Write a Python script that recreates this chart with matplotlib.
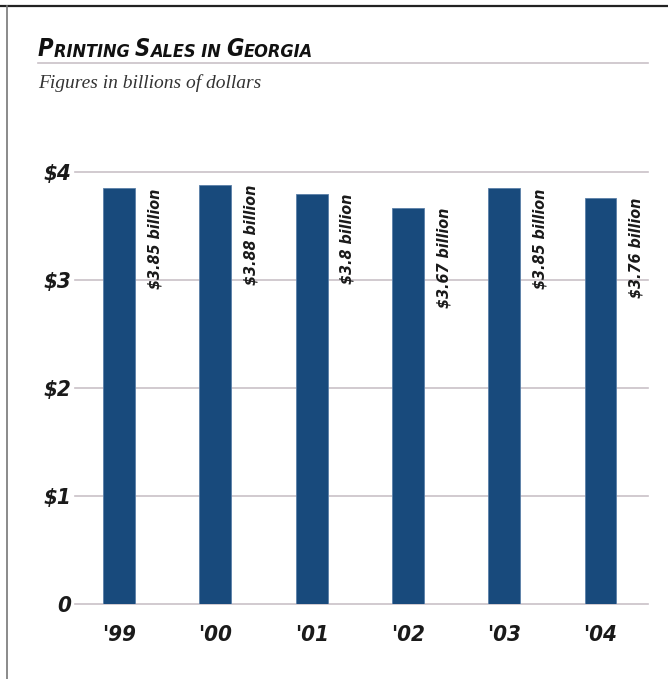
import matplotlib
matplotlib.use('Agg')
import matplotlib.pyplot as plt
from matplotlib.lines import Line2D

# datos del grafico
years = ["'99", "'00", "'01", "'02", "'03", "'04"]
sales = [3.85, 3.88, 3.80, 3.67, 3.85, 3.76]
labels = ['$3.85 billion', '$3.88 billion', '$3.8 billion',
          '$3.67 billion', '$3.85 billion', '$3.76 billion']
yticks = [0, 1, 2, 3, 4]
ytick_labels = ['0', '$1', '$2', '$3', '$4']

bar_color = '#184a7c'
grid_color = '#c9c1c7'
cond = ['Liberation Sans Narrow', 'DejaVu Sans']
cfont = dict(family=cond, fontstretch='condensed', fontweight='bold', fontstyle='italic')

W, H = 668, 679
fig = plt.figure(figsize=(W / 100, H / 100), dpi=100)

def fx(px):
    return px / W

def fy(py):
    return 1 - py / H

# marco
fig.add_artist(Line2D([0, 1], [fy(6), fy(6)], color='#222222', lw=1.6))
fig.add_artist(Line2D([fx(7), fx(7)], [fy(6), 0], color='#777777', lw=1.2))
fig.add_artist(Line2D([fx(38), fx(648)], [fy(63), fy(63)], color=grid_color, lw=1.2))

ax = fig.add_axes([fx(75), fy(604), fx(648) - fx(75), (604 - 172) / H])

# titulo en versalitas
parts = [('P', 17), ('RINTING ', 13), ('S', 17), ('ALES IN ', 13), ('G', 17), ('EORGIA', 13)]
prev = None
for txt, size in parts:
    if prev is None:
        prev = fig.text(fx(38), fy(56), txt, fontsize=size, va='baseline',
                        color='#111111', **cfont)
    else:
        prev = ax.annotate(txt, xy=(1, 0), xycoords=prev, fontsize=size, va='bottom',
                           ha='left', color='#111111', annotation_clip=False, **cfont)

fig.text(fx(38), fy(88), 'Figures in billions of dollars', fontsize=14,
         family='Liberation Serif', fontstyle='italic', color='#333333')

x = list(range(len(years)))
ax.bar(x, sales, width=0.33, color=bar_color, edgecolor='#5a7fa8', linewidth=0.6, zorder=3)
ax.set_xlim(-0.457, 5.493)
ax.set_ylim(0, 4)
ax.set_yticks(yticks)
ax.set_yticklabels(ytick_labels)
ax.set_xticks(x)
ax.set_xticklabels(years)
for t in ax.get_yticklabels() + ax.get_xticklabels():
    t.set_family(cond)
    t.set_fontstretch('condensed')
    t.set_fontsize(16)
    t.set_fontweight('bold')
    t.set_fontstyle('italic')
    t.set_color('#1a1a1a')
ax.tick_params(axis='both', length=0)
ax.tick_params(axis='y', pad=3)
ax.tick_params(axis='x', pad=15)
ax.grid(axis='y', color=grid_color, lw=1.2, zorder=0)
for gl in ax.get_ygridlines():
    gl.set_clip_on(False)
for s in ax.spines.values():
    s.set_visible(False)

for xi, v, lab in zip(x, sales, labels):
    ax.text(xi + 0.37, v, lab, rotation=90, ha='center', va='top', fontsize=11.5,
            color='#1a1a1a', zorder=4, clip_on=False, **cfont)

fig.savefig('out.png', dpi=100)
